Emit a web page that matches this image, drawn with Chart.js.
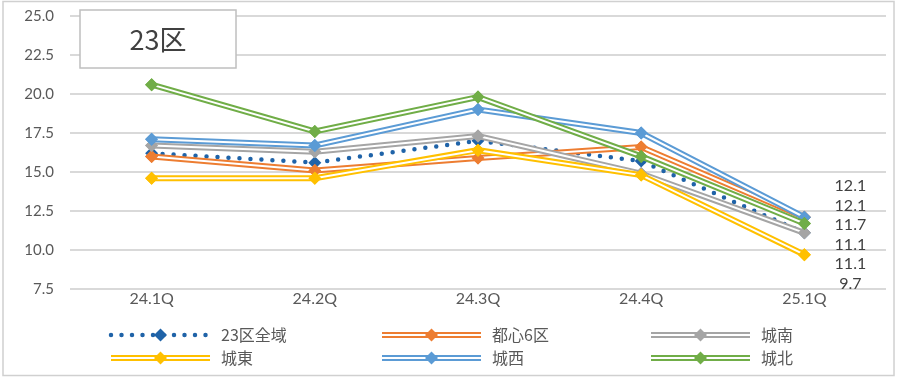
<!DOCTYPE html>
<html>
<head>
<meta charset="utf-8">
<script src="https://cdn.jsdelivr.net/npm/chart.js@4"></script>
<style>
  html, body { margin: 0; padding: 0; background: #fff; }
  #wrap { width: 900px; height: 380px; }
</style>
</head>
<body>
<div id="wrap"><canvas id="chart" width="900" height="380"></canvas></div>
<script>
// quarters on the x axis
const categories = ["24.1Q", "24.2Q", "24.3Q", "24.4Q", "25.1Q"];
const yTicks = [7.5, 10.0, 12.5, 15.0, 17.5, 20.0, 22.5, 25.0];

// series values
const all23 = [16.2, 15.6, 17.0, 15.7, 11.1];
const toshin6 = [16.0, 15.1, 15.9, 16.6, 12.1];
const jonan = [16.7, 16.3, 17.3, 14.9, 11.1];
const joto = [14.6, 14.6, 16.4, 14.8, 9.7];
const josai = [17.1, 16.7, 19.0, 17.5, 12.1];
const johoku = [20.6, 17.6, 19.8, 16.0, 11.7];

const seriesNames = ["23区全域", "都心6区", "城南", "城東", "城西", "城北"];
const seriesData = [all23, toshin6, jonan, joto, josai, johoku];
const seriesColors = ["#1f63a8", "#ed7d31", "#a5a5a5", "#ffc000", "#5b9bd5", "#70ad47"];

const TEXT = "#595959";
const NUM_FONT = "Lato, 'Liberation Sans', sans-serif";
const JP_FONT = "'Noto Sans CJK JP', sans-serif";

const datasets = seriesNames.map((name, i) => ({
  label: name,
  data: seriesData[i],
  borderColor: seriesColors[i],
  backgroundColor: seriesColors[i],
  borderWidth: i === 0 ? 4.5 : 6,
  borderDash: i === 0 ? [0, 11] : [],
  borderCapStyle: i === 0 ? "round" : "butt",
  double: i !== 0,
  pointStyle: "rectRot",
  pointRadius: 6.5,
  pointBorderWidth: 0,
  tension: 0,
  order: -i,
}));

function strokeSample(ctx, x0, x1, y, i) {
  ctx.save();
  ctx.strokeStyle = seriesColors[i];
  if (i === 0) {
    ctx.lineWidth = 4.5;
    ctx.lineCap = "round";
    ctx.setLineDash([0, 10.5]);
  } else {
    ctx.lineWidth = 6;
  }
  ctx.beginPath();
  ctx.moveTo(x0, y);
  ctx.lineTo(x1, y);
  ctx.stroke();
  if (i !== 0) {
    ctx.setLineDash([]);
    ctx.strokeStyle = "#fff";
    ctx.lineWidth = 2;
    ctx.beginPath();
    ctx.moveTo(x0, y);
    ctx.lineTo(x1, y);
    ctx.stroke();
  }
  ctx.restore();
}

// white inner stripe for the double lines, then markers on top again
const doubleLine = {
  id: "doubleLine",
  afterDatasetDraw(chart, args) {
    const ds = chart.data.datasets[args.index];
    if (!ds.double) return;
    const ctx = chart.ctx;
    const pts = args.meta.data;
    ctx.save();
    ctx.strokeStyle = "#fff";
    ctx.lineWidth = 2;
    ctx.beginPath();
    pts.forEach((p, k) => (k ? ctx.lineTo(p.x, p.y) : ctx.moveTo(p.x, p.y)));
    ctx.stroke();
    ctx.restore();
    pts.forEach((p) => p.draw(ctx, chart.chartArea));
  },
};

// frame, title box, end labels and legend
const extras = {
  id: "extras",
  afterDraw(chart) {
    const ctx = chart.ctx;
    const xs = chart.scales.x;
    const ys = chart.scales.y;

    // outer frame
    ctx.save();
    ctx.strokeStyle = "#d0d0d0";
    ctx.lineWidth = 1.5;
    ctx.strokeRect(3, 1.5, 891, 374);

    // title box
    ctx.fillStyle = "#fff";
    ctx.fillRect(80, 10, 156, 58);
    ctx.strokeStyle = "#bfbfbf";
    ctx.lineWidth = 1.5;
    ctx.strokeRect(80, 10, 156, 58);
    ctx.fillStyle = "#404040";
    ctx.font = "27px " + JP_FONT;
    ctx.textAlign = "center";
    ctx.textBaseline = "middle";
    ctx.fillText("23区", 158, 40);

    // values of the last quarter, stacked at the right
    const last = categories.length - 1;
    const vals = seriesData.map((d) => d[last]).sort((a, b) => b - a);
    const lx = xs.getPixelForValue(last) + 46;
    let ly = ys.getPixelForValue(vals[0]) - 31;
    ctx.font = "16px " + NUM_FONT;
    ctx.fillStyle = "#404040";
    vals.forEach((v) => {
      ctx.fillText(v.toFixed(1), lx, ly);
      ly += 19.5;
    });

    // legend, three columns by two rows
    const colX = [111, 382, 651];
    const rowY = [335, 358];
    ctx.font = "16px " + JP_FONT;
    ctx.textAlign = "left";
    seriesNames.forEach((name, i) => {
      const x0 = colX[i % 3];
      const y = rowY[Math.floor(i / 3)];
      strokeSample(ctx, x0, x0 + 99, y, i);
      const cx = x0 + 49.5;
      ctx.fillStyle = seriesColors[i];
      ctx.beginPath();
      ctx.moveTo(cx, y - 6.5);
      ctx.lineTo(cx + 6.5, y);
      ctx.lineTo(cx, y + 6.5);
      ctx.lineTo(cx - 6.5, y);
      ctx.closePath();
      ctx.fill();
      ctx.fillStyle = TEXT;
      ctx.fillText(name, x0 + 110, y);
    });
    ctx.restore();
  },
};

new Chart(document.getElementById("chart"), {
  type: "line",
  data: { labels: categories, datasets },
  plugins: [doubleLine, extras],
  options: {
    responsive: false,
    animation: false,
    layout: { padding: { left: 0, top: 16, right: 14, bottom: 60 } },
    plugins: {
      legend: { display: false },
      tooltip: { enabled: false },
    },
    scales: {
      x: {
        offset: true,
        grid: { display: false, drawTicks: false },
        border: { display: false },
        ticks: { color: TEXT, font: { family: NUM_FONT, size: 16 }, padding: 0 },
        afterFit(scale) {
          scale.height = 31;
          scale.paddingLeft = 0;
          scale.paddingRight = 0;
        },
      },
      y: {
        min: yTicks[0],
        max: yTicks[yTicks.length - 1],
        afterBuildTicks(scale) { scale.ticks = yTicks.map((v) => ({ value: v })); },
        grid: { color: "#d9d9d9", lineWidth: 2, drawTicks: false },
        border: { display: false },
        ticks: {
          color: TEXT,
          font: { family: NUM_FONT, size: 15 },
          padding: 16,
          callback: (v) => Number(v).toFixed(1),
        },
        afterFit(scale) {
          scale.width = 70;
          scale.paddingTop = 0;
          scale.paddingBottom = 0;
        },
      },
    },
  },
});
</script>
</body>
</html>
